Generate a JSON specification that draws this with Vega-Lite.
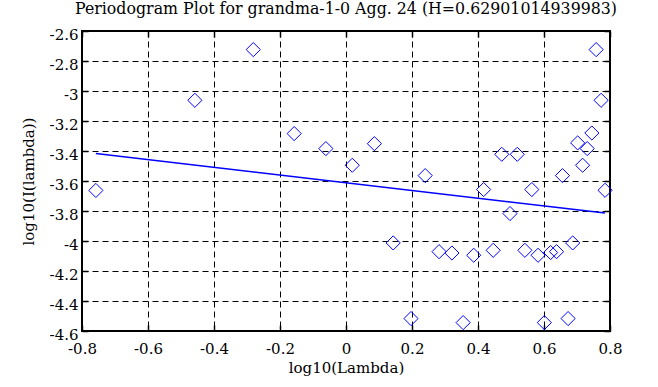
{
  "$schema": "https://vega.github.io/schema/vega-lite/v6.json",
  "width": 528,
  "height": 300,
  "autosize": {"type": "none"},
  "padding": {"left": 82, "top": 31, "right": 48, "bottom": 56},
  "background": "white",
  "title": {"text": "Periodogram Plot for grandma-1-0 Agg. 24 (H=0.62901014939983)", "font": "DejaVu Serif", "fontSize": 15.8, "fontWeight": "normal", "color": "black", "offset": 9, "anchor": "middle"},
  "config": {
    "view": {"stroke": "black", "strokeWidth": 2},
    "axis": {"domain": false, "tickColor": "black", "tickSize": -6, "tickWidth": 1.5, "gridColor": "black", "gridOpacity": 1, "gridDash": [6, 4], "gridWidth": 1, "labelFont": "DejaVu Serif", "labelFontSize": 15, "labelColor": "black", "labelFlush": false, "labelOverlap": false, "titleFont": "DejaVu Serif", "titleFontSize": 15, "titleFontWeight": "normal", "titleColor": "black"}
  },
  "datasets": {
    "pts": [
      {"x": -0.758, "y": -3.663}, {"x": -0.458, "y": -3.062}, {"x": -0.281, "y": -2.724}, {"x": -0.157, "y": -3.284},
      {"x": -0.061, "y": -3.384}, {"x": 0.019, "y": -3.495}, {"x": 0.086, "y": -3.351}, {"x": 0.143, "y": -4.013},
      {"x": 0.197, "y": -4.517}, {"x": 0.24, "y": -3.564}, {"x": 0.282, "y": -4.071}, {"x": 0.321, "y": -4.08},
      {"x": 0.355, "y": -4.544}, {"x": 0.387, "y": -4.095}, {"x": 0.417, "y": -3.657}, {"x": 0.446, "y": -4.062},
      {"x": 0.472, "y": -3.422}, {"x": 0.497, "y": -3.817}, {"x": 0.519, "y": -3.422}, {"x": 0.542, "y": -4.062},
      {"x": 0.563, "y": -3.657}, {"x": 0.582, "y": -4.095}, {"x": 0.601, "y": -4.544}, {"x": 0.62, "y": -4.077},
      {"x": 0.638, "y": -4.071}, {"x": 0.656, "y": -3.564}, {"x": 0.673, "y": -4.517}, {"x": 0.687, "y": -4.013},
      {"x": 0.702, "y": -3.346}, {"x": 0.717, "y": -3.495}, {"x": 0.731, "y": -3.384}, {"x": 0.745, "y": -3.28},
      {"x": 0.758, "y": -2.724}, {"x": 0.773, "y": -3.062}, {"x": 0.785, "y": -3.662}
    ],
    "fit": [{"x": -0.758, "y": -3.417}, {"x": 0.785, "y": -3.814}]
  },
  "layer": [
    {
      "data": {"name": "pts"},
      "mark": {"type": "point", "shape": "diamond", "size": 200, "filled": false, "stroke": "#0000ff", "strokeWidth": 1, "opacity": 1},
      "encoding": {
        "x": {"field": "x", "type": "quantitative", "scale": {"domain": [-0.8, 0.8], "nice": false, "zero": false}, "axis": {"title": "log10(Lambda)", "values": [-0.8, -0.6, -0.4, -0.2, 0, 0.2, 0.4, 0.6, 0.8], "labelExpr": "toString(datum.value)", "labelPadding": 16, "titlePadding": 4, "orient": "bottom"}},
        "y": {"field": "y", "type": "quantitative", "scale": {"domain": [-4.6, -2.6], "nice": false, "zero": false}, "axis": {"title": "log10(I(lambda))", "values": [-4.6, -4.4, -4.2, -4, -3.8, -3.6, -3.4, -3.2, -3, -2.8, -2.6], "labelExpr": "toString(datum.value)", "labelPadding": 10, "labelOffset": 3, "titlePadding": 13, "orient": "left"}}
      }
    },
    {
      "data": {"name": "fit"},
      "mark": {"type": "line", "color": "#0000ff", "strokeWidth": 1.5},
      "encoding": {
        "x": {"field": "x", "type": "quantitative", "scale": {"domain": [-0.8, 0.8], "nice": false, "zero": false}, "axis": {"orient": "top", "title": null, "labels": false, "grid": false, "values": [-0.8, -0.6, -0.4, -0.2, 0, 0.2, 0.4, 0.6, 0.8]}},
        "y": {"field": "y", "type": "quantitative", "scale": {"domain": [-4.6, -2.6], "nice": false, "zero": false}, "axis": {"orient": "right", "title": null, "labels": false, "grid": false, "values": [-4.6, -4.4, -4.2, -4, -3.8, -3.6, -3.4, -3.2, -3, -2.8, -2.6]}}
      }
    }
  ],
  "resolve": {"axis": {"x": "independent", "y": "independent"}}
}
